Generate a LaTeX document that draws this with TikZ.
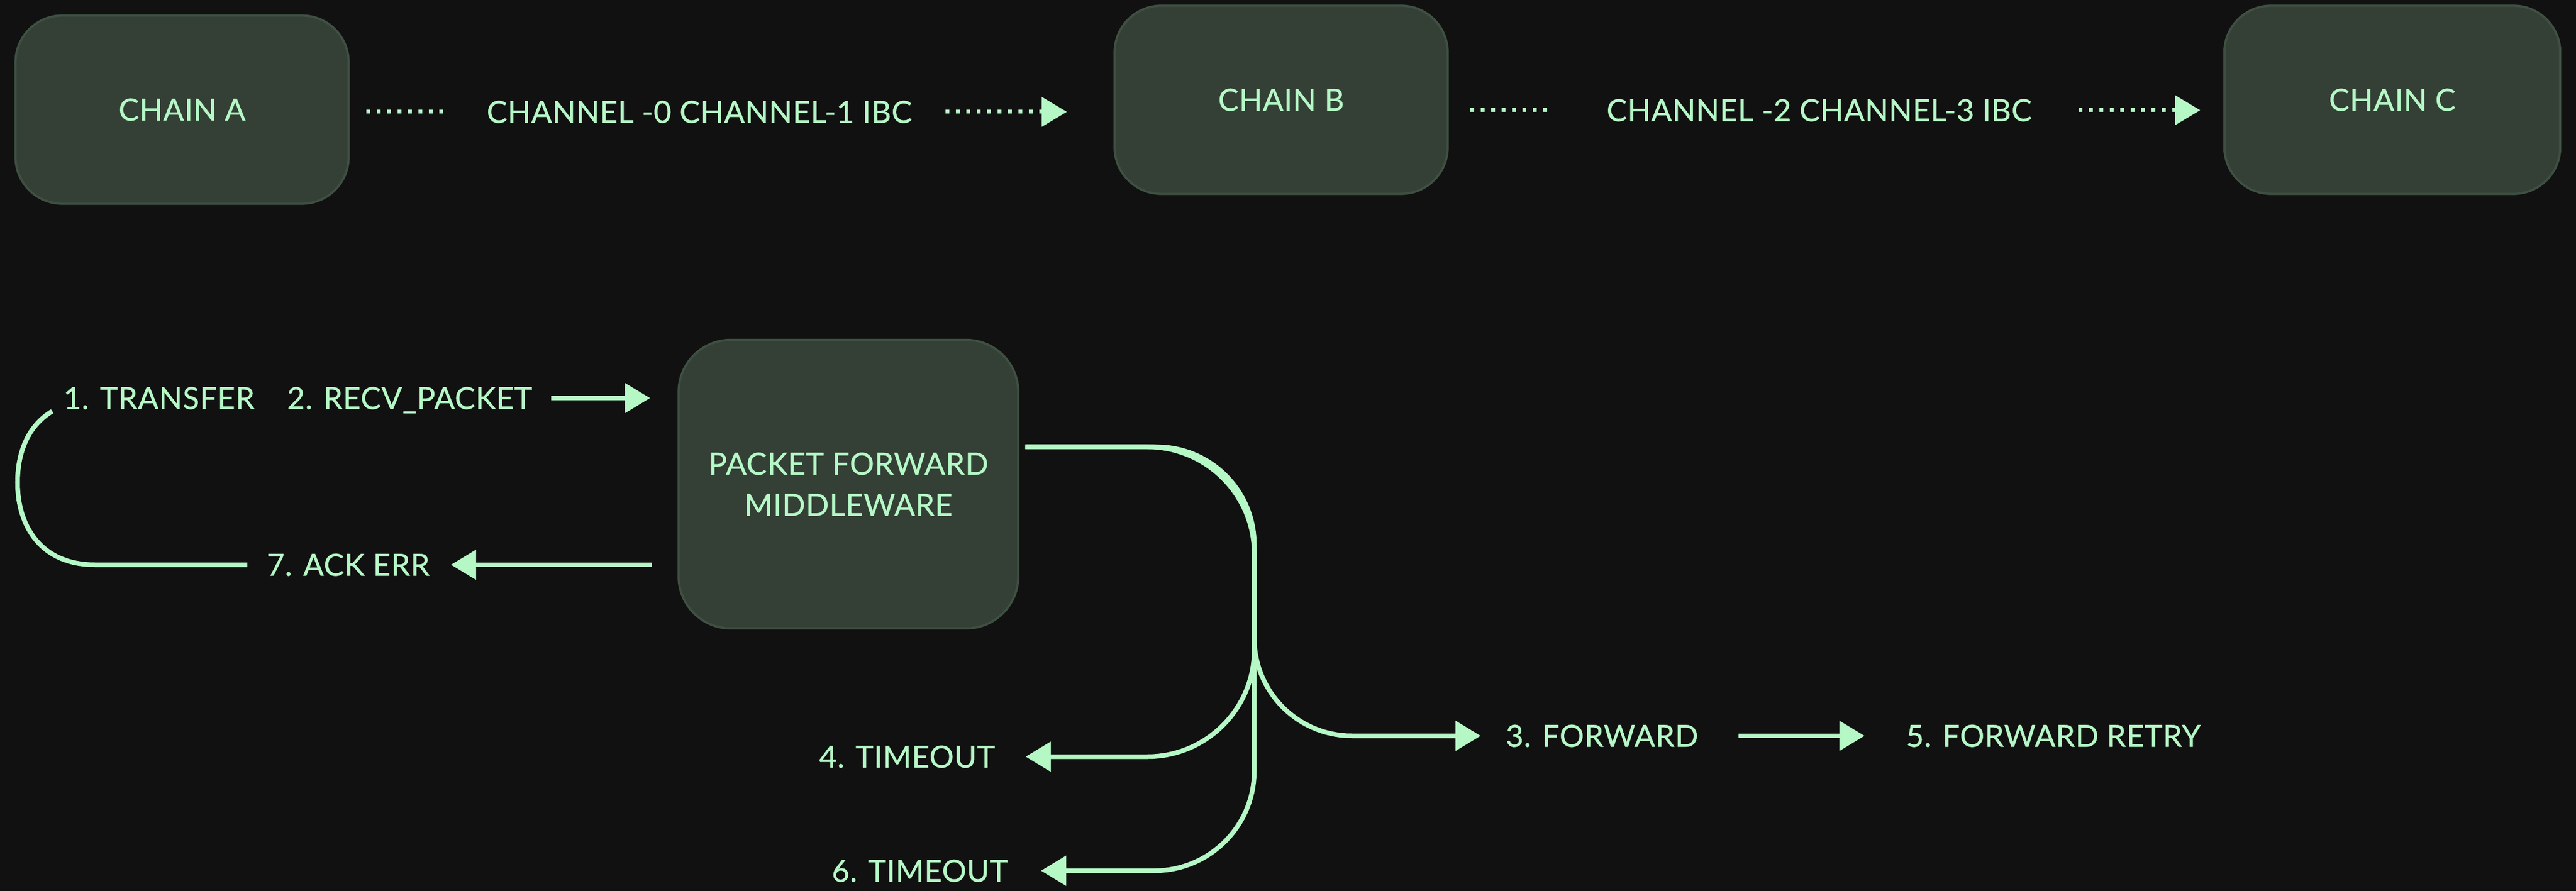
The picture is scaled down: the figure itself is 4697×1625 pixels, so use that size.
\documentclass[tikz,border=0pt]{standalone}
\usepackage{fontspec}
\setmainfont{Lato}[UprightFeatures={FakeBold=0.7}, LetterSpace=1.5]
\usetikzlibrary{arrows.meta}

\definecolor{bgdark}{HTML}{111111}
\definecolor{boxfill}{HTML}{344036}
\definecolor{boxline}{HTML}{3F5043}
\definecolor{mint}{HTML}{B5F8C6}

\tikzset{
	chain/.style={draw=boxline, line width=0.04cm, fill=boxfill, rounded corners=0.85cm,
		minimum width=6.07cm, minimum height=3.43cm, text=mint, inner sep=0pt,
		font=\fontsize{15.8}{21.3}\selectfont},
	flowtext/.style={text=mint, inner sep=0pt, text height=0.4cm, text depth=0pt,
		font=\fontsize{15.8}{18}\selectfont},
	tip/.style={-{Triangle[length=0.46cm, width=0.53cm]}},
	wire/.style={mint, line width=0.085cm},
	flow/.style={wire, tip},
	ibc/.style={mint, line width=0.07cm, dash pattern=on 0.07cm off 0.12cm}
}

\begin{document}
\begin{tikzpicture}[x=0.01cm, y=-0.01cm]
	\fill [bgdark] (0,0) rectangle (4697,1625);
	\useasboundingbox (0,0) rectangle (4697,1625);

	% chains and channels
	\node (chainA) [chain] at (332,200) {CHAIN A};
	\node (chainB) [chain] at (2336,182) {CHAIN B};
	\node (chainC) [chain, minimum width=6.12cm] at (4362,182) {CHAIN C};
	\node (ibcAB) [flowtext] at (1275,204) {CHANNEL -0 CHANNEL-1 IBC};
	\node (ibcBC) [flowtext] at (3317,201) {CHANNEL -2 CHANNEL-3 IBC};

	\draw [ibc, shorten <=0.3cm, shorten >=0.69cm] (ibcAB.west -| chainA.east) -- (ibcAB.west);
	\draw [ibc, tip, shorten <=0.61cm, shorten >=0.85cm] (ibcAB.east) -- (ibcAB.east -| chainB.west);
	\draw [ibc, shorten <=0.39cm, shorten >=1.03cm] (ibcBC.west -| chainB.east) -- (ibcBC.west);
	\draw [ibc, tip, shorten <=0.85cm, shorten >=0.42cm] (ibcBC.east) -- (ibcBC.east -| chainC.west);

	% middleware and steps
	\node (pfm) [chain, minimum width=6.19cm, minimum height=5.26cm, rounded corners=0.95cm,
		align=center] at (1547,883) {PACKET FORWARD\\MIDDLEWARE};
	\node (transfer) [flowtext] at (290,726) {1. TRANSFER};
	\node (recv) [flowtext] at (747,726) {2. RECV\_PACKET};
	\node (ack) [flowtext] at (635,1030) {7. ACK ERR};
	\node (fwd) [flowtext] at (2921,1342) {3. FORWARD};
	\node (retry) [flowtext] at (3744,1342) {5. FORWARD RETRY};
	\node (tout4) [flowtext] at (1654,1380) {4. TIMEOUT};
	\node (tout6) [flowtext] at (1677,1588) {6. TIMEOUT};

	\draw [flow, shorten <=0.34cm, shorten >=0.5cm] (recv.east) -- (recv.east -| pfm.west);
	\draw [flow, shorten <=0.46cm, shorten >=0.38cm] (ack.east -| pfm.west) -- (ack.east);

	% loop back to the sender
	\coordinate (loopA) at ([xshift=-0.35cm]ack.west);
	\coordinate (loopB) at ([xshift=-0.2cm, yshift=-0.24cm]transfer.west);
	\draw [wire] (loopA) -- (173,1030) .. controls (75,1030) and (32,960) .. (32,880)
		.. controls (32,815) and (58,772) .. (loopB);

	% branches out of the middleware
	\coordinate (fork) at ([xshift=0.11cm, yshift=0.68cm]pfm.east);
	\coordinate (trunk) at (2287,815);
	\draw [flow, rounded corners=1.78cm, shorten >=0.45cm] (fork) -- (trunk) -- (trunk |- fwd.west) -- (fwd.west);
	\draw [flow, rounded corners=1.95cm, shorten >=0.55cm] (fork) -- (trunk) -- (trunk |- tout4.east) -- (tout4.east);
	\draw [flow, rounded corners=1.82cm, shorten >=0.6cm] (fork) -- (trunk) -- (trunk |- tout6.east) -- (tout6.east);
	\draw [flow, shorten <=0.73cm, shorten >=0.75cm] (fwd.east) -- (retry.west);
\end{tikzpicture}
\end{document}
